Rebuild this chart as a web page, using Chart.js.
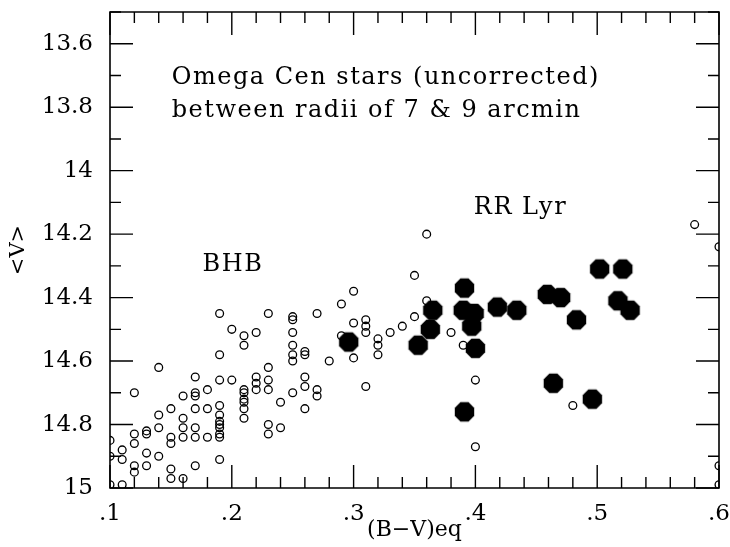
<!DOCTYPE html>
<html>
<head>
<meta charset="utf-8">
<script src="https://cdn.jsdelivr.net/npm/chart.js@4.4.1/dist/chart.umd.min.js"></script>
<style>
html,body{margin:0;padding:0;background:#fff;}
#wrap{width:730px;height:547px;position:relative;}
</style>
</head>
<body>
<div id="wrap"><canvas id="c" width="730" height="547"></canvas></div>
<script>
// ---- data: open circles (other stars) ----
const openX = [
  0.10,0.10,0.10,
  0.11,0.11,0.11,
  0.12,0.12,0.12,0.12,0.12,
  0.13,0.13,0.13,0.13,
  0.14,0.14,0.14,0.14,
  0.15,0.15,0.15,0.15,0.15,
  0.16,0.16,0.16,0.16,0.16,
  0.17,0.17,0.17,0.17,0.17,0.17,0.17,
  0.18,0.18,0.18,
  0.19,0.19,0.19,0.19,0.19,0.19,0.19,0.19,0.19,0.19,0.19,
  0.20,0.20,
  0.21,0.21,0.21,0.21,0.21,0.21,0.21,0.21,
  0.22,0.22,0.22,0.22,
  0.23,0.23,0.23,0.23,0.23,0.23,
  0.24,0.24,
  0.25,0.25,0.25,0.25,0.25,0.25,0.25,
  0.26,0.26,0.26,0.26,0.26,
  0.27,0.27,0.27,
  0.28,
  0.29,0.29,
  0.30,0.30,0.30,
  0.31,0.31,0.31,0.31,
  0.32,0.32,0.32,
  0.33,
  0.34,
  0.35,0.35,
  0.36,0.36,
  0.38,
  0.39,
  0.40,0.40,
  0.48,
  0.58,
  0.60,0.60,0.60
];
const openY = [
  14.85,14.90,14.99,
  14.88,14.91,14.99,
  14.70,14.83,14.86,14.93,14.95,
  14.82,14.83,14.89,14.93,
  14.62,14.77,14.81,14.90,
  14.75,14.84,14.86,14.94,14.97,
  14.71,14.78,14.81,14.84,14.97,
  14.65,14.70,14.71,14.75,14.81,14.84,14.93,
  14.69,14.75,14.84,
  14.45,14.58,14.66,14.74,14.77,14.79,14.80,14.81,14.83,14.84,14.91,
  14.50,14.66,
  14.52,14.55,14.69,14.70,14.72,14.73,14.75,14.78,
  14.51,14.65,14.67,14.69,
  14.45,14.62,14.66,14.69,14.80,14.83,
  14.73,14.81,
  14.46,14.47,14.51,14.55,14.58,14.60,14.70,
  14.57,14.58,14.65,14.68,14.75,
  14.45,14.69,14.71,
  14.60,
  14.42,14.52,
  14.38,14.48,14.59,
  14.47,14.49,14.51,14.68,
  14.53,14.55,14.58,
  14.51,
  14.49,
  14.33,14.46,
  14.20,14.41,
  14.51,
  14.55,
  14.66,14.87,
  14.74,
  14.17,
  14.24,14.93,14.99
];
// ---- data: filled octagons (RR Lyrae) ----
const rrX = [0.296,0.353,0.363,0.365,0.391,0.390,0.399,0.397,0.400,0.391,0.418,0.434,0.459,0.470,0.483,0.464,0.496,0.502,0.521,0.517,0.527];
const rrY = [14.54,14.55,14.50,14.44,14.37,14.44,14.45,14.49,14.56,14.76,14.43,14.44,14.39,14.40,14.47,14.67,14.72,14.31,14.31,14.41,14.44];

// ---- ticks ----
const xTickValues = [0.1,0.2,0.3,0.4,0.5,0.6];
const xTickLabels = ['.1','.2','.3','.4','.5','.6'];
const yTickValues = [13.6,13.8,14.0,14.2,14.4,14.6,14.8,15.0];
const yTickLabels = ['13.6','13.8','14','14.2','14.4','14.6','14.8','15'];
const xMinorStep = 0.02;
const yMinorStep = 0.1;

// ---- text labels ----
const noteTexts = ['Omega Cen stars (uncorrected)','between radii of 7 & 9 arcmin','RR Lyr','BHB'];
const noteX = [0.1507,0.1507,0.3987,0.176];
const noteY = [13.727,13.83,14.135,14.316];

const SERIF = "'DejaVu Serif', 'Liberation Serif', serif";

function makeOctagon(r){
  const s = Math.ceil(2*r + 2);
  const c = document.createElement('canvas');
  c.width = s; c.height = s;
  const g = c.getContext('2d');
  g.fillStyle = '#000';
  g.beginPath();
  for (let k = 0; k < 8; k++){
    const a = Math.PI/8 + k*Math.PI/4;
    const px = s/2 + r*Math.cos(a), py = s/2 + r*Math.sin(a);
    if (k === 0) g.moveTo(px,py); else g.lineTo(px,py);
  }
  g.closePath();
  g.fill();
  return c;
}

const frame = {
  id: 'frame',
  beforeDatasetsDraw(chart){
    const {ctx, chartArea: a, scales: {x, y}} = chart;
    ctx.save();
    ctx.strokeStyle = '#000';
    ctx.lineWidth = 1.6;
    ctx.beginPath();
    ctx.rect(a.left, a.top, a.right - a.left, a.bottom - a.top);
    ctx.stroke();
    const MAJ = 23, MIN = 11;
    ctx.lineWidth = 1.4;
    ctx.beginPath();
    const nx = Math.round((x.max - x.min)/xMinorStep);
    for (let i = 0; i <= nx; i++){
      const v = x.min + i*xMinorStep;
      const px = x.getPixelForValue(v);
      const L = (i % 5 === 0) ? MAJ : MIN;
      ctx.moveTo(px, a.bottom); ctx.lineTo(px, a.bottom - L);
      ctx.moveTo(px, a.top); ctx.lineTo(px, a.top + L);
    }
    const ny = Math.round((y.max - y.min)/yMinorStep);
    for (let i = 0; i <= ny; i++){
      const v = y.min + i*yMinorStep;
      const py = y.getPixelForValue(v);
      const major = yTickValues.some(t => Math.abs(t - v) < 1e-6);
      const L = major ? MAJ : MIN;
      ctx.moveTo(a.left, py); ctx.lineTo(a.left + L, py);
      ctx.moveTo(a.right, py); ctx.lineTo(a.right - L, py);
    }
    ctx.stroke();
    ctx.restore();
  },
  afterDraw(chart){
    const {ctx, scales: {x, y}} = chart;
    ctx.save();
    ctx.fillStyle = '#000';
    ctx.font = "24px " + SERIF;
    if ('letterSpacing' in ctx) ctx.letterSpacing = '1.5px';
    ctx.textAlign = 'left';
    ctx.textBaseline = 'alphabetic';
    for (let i = 0; i < noteTexts.length; i++){
      ctx.fillText(noteTexts[i], x.getPixelForValue(noteX[i]), y.getPixelForValue(noteY[i]));
    }
    ctx.restore();
  }
};

new Chart(document.getElementById('c'), {
  type: 'scatter',
  data: {
    datasets: [
      {
        label: 'RR Lyr',
        data: rrX.map((v,i)=>({x: v, y: rrY[i]})),
        pointStyle: makeOctagon(10.5),
        pointRadius: 10,
        backgroundColor: '#000',
        borderColor: '#000',
        clip: 0
      },
      {
        label: 'Other stars',
        data: openX.map((v,i)=>({x: v, y: openY[i]})),
        pointStyle: 'circle',
        pointRadius: 3.9,
        borderWidth: 1.3,
        borderColor: '#000',
        backgroundColor: 'rgba(0,0,0,0)',
        clip: 0
      }
    ]
  },
  options: {
    responsive: false,
    animation: false,
    devicePixelRatio: 1,
    layout: { padding: { left: 0, right: 8, top: 12, bottom: 0 } },
    plugins: { legend: { display: false }, tooltip: { enabled: false } },
    scales: {
      x: {
        type: 'linear',
        min: 0.1, max: 0.6,
        afterBuildTicks: s => { s.ticks = xTickValues.map(v => ({value: v})); },
        afterFit: s => { s.height = 59; s.paddingLeft = 0; s.paddingRight = 0; },
        grid: { display: false, drawTicks: false },
        border: { display: false },
        ticks: {
          callback: (v, i) => xTickLabels[i],
          color: '#000',
          font: { family: SERIF, size: 23 },
          padding: 12,
          maxRotation: 0,
          autoSkip: false
        },
        title: {
          display: true,
          text: '(B\u2212V)eq',
          color: '#000',
          font: { family: SERIF, size: 22 },
          padding: { top: 0, bottom: 4 }
        }
      },
      y: {
        type: 'linear',
        reverse: true,
        min: 13.5, max: 15,
        afterBuildTicks: s => { s.ticks = yTickValues.map(v => ({value: v})); },
        afterFit: s => { s.width = 110; s.paddingTop = 0; s.paddingBottom = 0; },
        grid: { display: false, drawTicks: false },
        border: { display: false },
        ticks: {
          callback: (v, i) => yTickLabels[i],
          color: '#000',
          font: { family: SERIF, size: 23 },
          padding: 17,
          autoSkip: false
        },
        title: {
          display: true,
          text: '<V>',
          color: '#000',
          font: { family: SERIF, size: 21 },
          padding: { top: 6, bottom: 0 }
        }
      }
    }
  },
  plugins: [frame]
});
</script>
</body>
</html>
